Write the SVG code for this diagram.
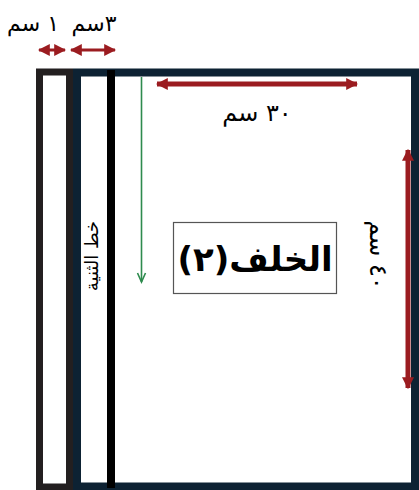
<svg xmlns="http://www.w3.org/2000/svg" width="419" height="490" viewBox="0 0 419 490">
<defs>
<style>
.t{font-family:"DejaVu Sans","Noto Sans",sans-serif;fill:#000;}
.red{stroke:#9b1c20;fill:none;}
</style>
<marker id="rh" viewBox="0 0 10 10" refX="9" refY="5" markerWidth="2.4" markerHeight="2.6" markerUnits="strokeWidth" orient="auto-start-reverse"><path d="M0,0 L10,5 L0,10 Z" fill="#9b1c20"/></marker>
<marker id="rs" viewBox="0 0 10 10" refX="9" refY="5" markerWidth="4" markerHeight="5" markerUnits="strokeWidth" orient="auto-start-reverse"><path d="M0,0 L10,5 L0,10 Z" fill="#9b1c20"/></marker>
</defs>
<rect width="419" height="490" fill="#fff"/>
<g id="back-panel">
<rect x="77" y="72.5" width="338" height="414" fill="#fff" stroke="#0d2233" stroke-width="8"/>
</g>
<g id="strip-1cm">
<rect x="39.5" y="72" width="30" height="415" fill="#fff" stroke="#231f20" stroke-width="7"/>
</g>
<g id="fold-line">
<line x1="111" y1="70" x2="111" y2="488" stroke="#000" stroke-width="8"/>
<text class="t" font-size="18" text-anchor="middle" transform="translate(92,256) rotate(-90)" dy="6">خط الثنية</text>
</g>
<g id="label-back">
<rect x="173.5" y="222.5" width="163" height="71" fill="#fff" stroke="#555" stroke-width="1.2"/>
<text class="t" font-size="34" font-weight="bold" text-anchor="middle" x="255" y="271">الخلف(٢)</text>
</g>
<g id="connectors">
<line class="red" x1="39" y1="50" x2="65" y2="50" stroke-width="3" marker-start="url(#rs)" marker-end="url(#rs)"/>
<line class="red" x1="71" y1="50" x2="115" y2="50" stroke-width="3" marker-start="url(#rs)" marker-end="url(#rs)"/>
<line class="red" x1="157" y1="84" x2="357" y2="84" stroke-width="5" marker-start="url(#rh)" marker-end="url(#rh)"/>
<line class="red" x1="408" y1="150" x2="408" y2="388" stroke-width="5" marker-start="url(#rh)" marker-end="url(#rh)"/>
<line x1="141.5" y1="77" x2="141.5" y2="282" stroke="#2e8b4e" stroke-width="1.6"/>
<polyline points="137.5,273 141.5,282 145.5,273" fill="none" stroke="#2e8b4e" stroke-width="1.6"/>
</g>
<g id="labels">
<text class="t" font-size="22" text-anchor="middle" x="33" y="31">١ سم</text>
<text class="t" font-size="22" text-anchor="middle" x="94" y="31">٣سم</text>
<text class="t" font-size="24" text-anchor="middle" x="257" y="121">٣٠ سم</text>
<text class="t" font-size="24" text-anchor="middle" transform="translate(378,255) rotate(90)" dy="8">٤٠ سم</text>
</g>
</svg>
